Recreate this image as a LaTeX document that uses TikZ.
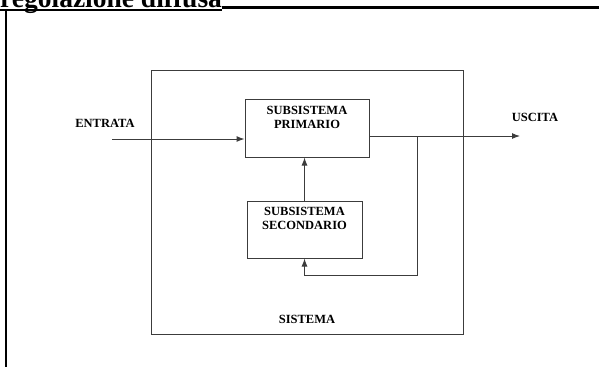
\documentclass[tikz,border=0pt]{standalone}
\usepackage{fontspec}
\setmainfont{Liberation Serif}
\usetikzlibrary{positioning, arrows.meta, calc}
\definecolor{TrattoScan}{RGB}{60,60,60}

\begin{document}
\begin{tikzpicture}[x=1pt, y=-1pt, >={Latex[length=8pt, width=6pt]},
  font=\bfseries\fontsize{12.5}{13.5}\selectfont,
  blocco/.style={rectangle, draw=TrattoScan, line width=1pt, inner sep=0pt},
  testo/.style={align=center, inner sep=0pt},
  filo/.style={draw=TrattoScan, line width=1pt},
  cornice/.style={draw=black, line width=2.6pt}]
  \useasboundingbox (0,0) rectangle (599,367);
  \clip (0,0) rectangle (599,367);
  % titolo tagliato e cornice
  \node[testo, anchor=base west, font=\bfseries\fontsize{27.5}{30}\selectfont] (titolo) at (0,7.5) {regolazione diffusa};
  \draw[black, line width=2pt] (0,10.2) -- (222,10.2);
  \draw[cornice] (222,7.3) -- (599,7.3);
  \draw[cornice] (6,10) -- (6,367);
  % blocchi
  \node[blocco, minimum width=312, minimum height=264] (sistema) at (307,202) {};
  \node[blocco, minimum width=124, minimum height=58] (primario) at (307,128) {};
  \node[blocco, minimum width=115, minimum height=57] (secondario) at (304.5,229.5) {};
  \node[testo, below=8pt of primario.north] (primarioTesto) {SUBSISTEMA\\PRIMARIO};
  \node[testo, below=7pt of secondario.north] (secondarioTesto) {SUBSISTEMA\\SECONDARIO};
  \node[testo, above=11pt of sistema.south] (sistemaTesto) {SISTEMA};
  \node[testo] (entrata) at (105,123) {ENTRATA};
  \node[testo] (uscita) at (535,117) {USCITA};
  % punti liberi
  \coordinate (ingresso) at (112,139);
  \coordinate (uscitaPunta) at (520,136);
  \coordinate (diramazione) at (417,136);
  \coordinate (ritorno) at (417,275);
  % connessioni
  \draw[filo, ->] (ingresso) -- (ingresso -| primario.west);
  \draw[filo, ->] (primario.east |- uscitaPunta) -- (uscitaPunta);
  \draw[filo, ->] (diramazione) -- (ritorno) -| (secondario.south);
  \draw[filo, ->] (secondario.north) -- (secondario.north |- primario.south);
\end{tikzpicture}
\end{document}
